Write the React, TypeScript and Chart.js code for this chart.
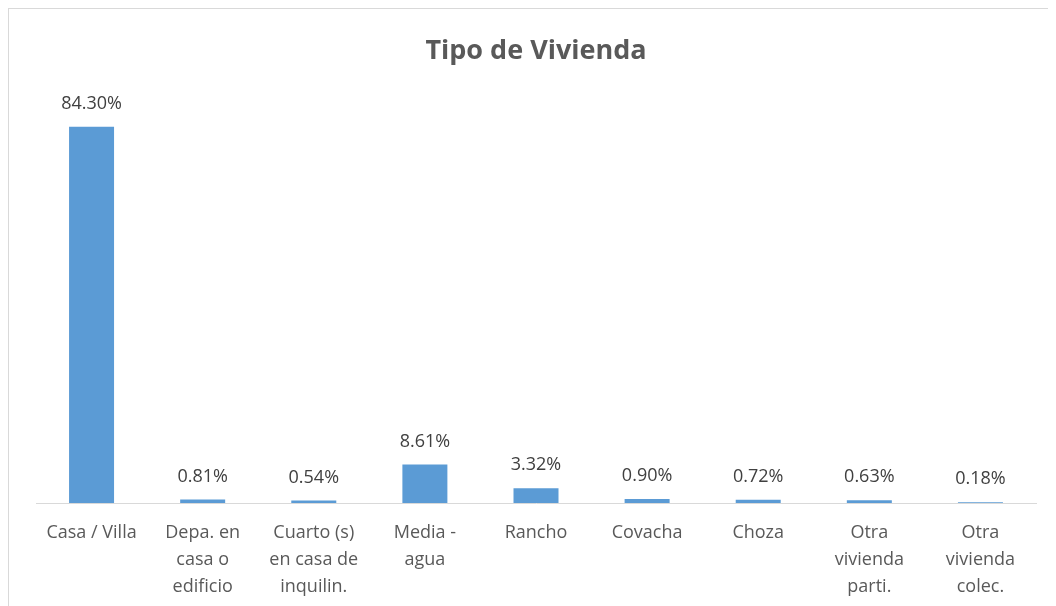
import React, { useEffect, useRef } from "react";
import { Chart, registerables } from "chart.js";

Chart.register(...registerables);

const categories: string[][] = [
  ["Casa / Villa"],
  ["Depa. en", "casa o", "edificio"],
  ["Cuarto (s)", "en casa de", "inquilin."],
  ["Media -", "agua"],
  ["Rancho"],
  ["Covacha"],
  ["Choza"],
  ["Otra", "vivienda", "parti."],
  ["Otra", "vivienda", "colec."],
];
const values: number[] = [84.3, 0.81, 0.54, 8.61, 3.32, 0.9, 0.72, 0.63, 0.18];
const title = "Tipo de Vivienda";

const FONT = "'Open Sans', sans-serif";

const labelPlugin = {
  id: "barLabels",
  afterDatasetsDraw(chart: any) {
    const { ctx } = chart;
    const meta = chart.getDatasetMeta(0);
    ctx.save();
    ctx.font = `18px ${FONT}`;
    ctx.fillStyle = "#404040";
    ctx.textAlign = "center";
    ctx.textBaseline = "middle";
    meta.data.forEach((bar: any, i: number) => {
      ctx.fillText(values[i].toFixed(2) + "%", bar.x, bar.y - 23);
    });
    ctx.restore();
  },
};

export default function App() {
  const ref = useRef<HTMLCanvasElement>(null);
  useEffect(() => {
    const chart = new Chart(ref.current!, {
      type: "bar",
      data: {
        labels: categories,
        datasets: [
          {
            data: values,
            backgroundColor: "#5B9BD5",
            categoryPercentage: 1,
            barPercentage: 0.405,
          },
        ],
      },
      options: {
        animation: false,
        responsive: false,
        layout: { padding: { left: 27, right: 13, top: 0, bottom: 3 } },
        plugins: {
          legend: { display: false },
          tooltip: { enabled: false },
          title: {
            display: true,
            text: title,
            color: "#595959",
            font: { family: FONT, size: 27, weight: "bold" },
            padding: { top: 26, bottom: 34 },
          },
        },
        scales: {
          y: { display: false, min: 0, max: 90 },
          x: {
            grid: { display: false, drawTicks: false },
            border: { display: true, color: "#d9d9d9", width: 1 },
            ticks: {
              color: "#595959",
              font: { family: FONT, size: 18, lineHeight: 1.5 },
              padding: 16,
              maxRotation: 0,
              autoSkip: false,
            },
          },
        },
      },
      plugins: [labelPlugin],
    });
    return () => chart.destroy();
  }, []);
  return (
    <div style={{ width: 1060, height: 620, border: "1px solid #d9d9d9", background: "#fff" }}>
      <canvas ref={ref} width={1040} height={610} style={{ display: "block" }} />
    </div>
  );
}
